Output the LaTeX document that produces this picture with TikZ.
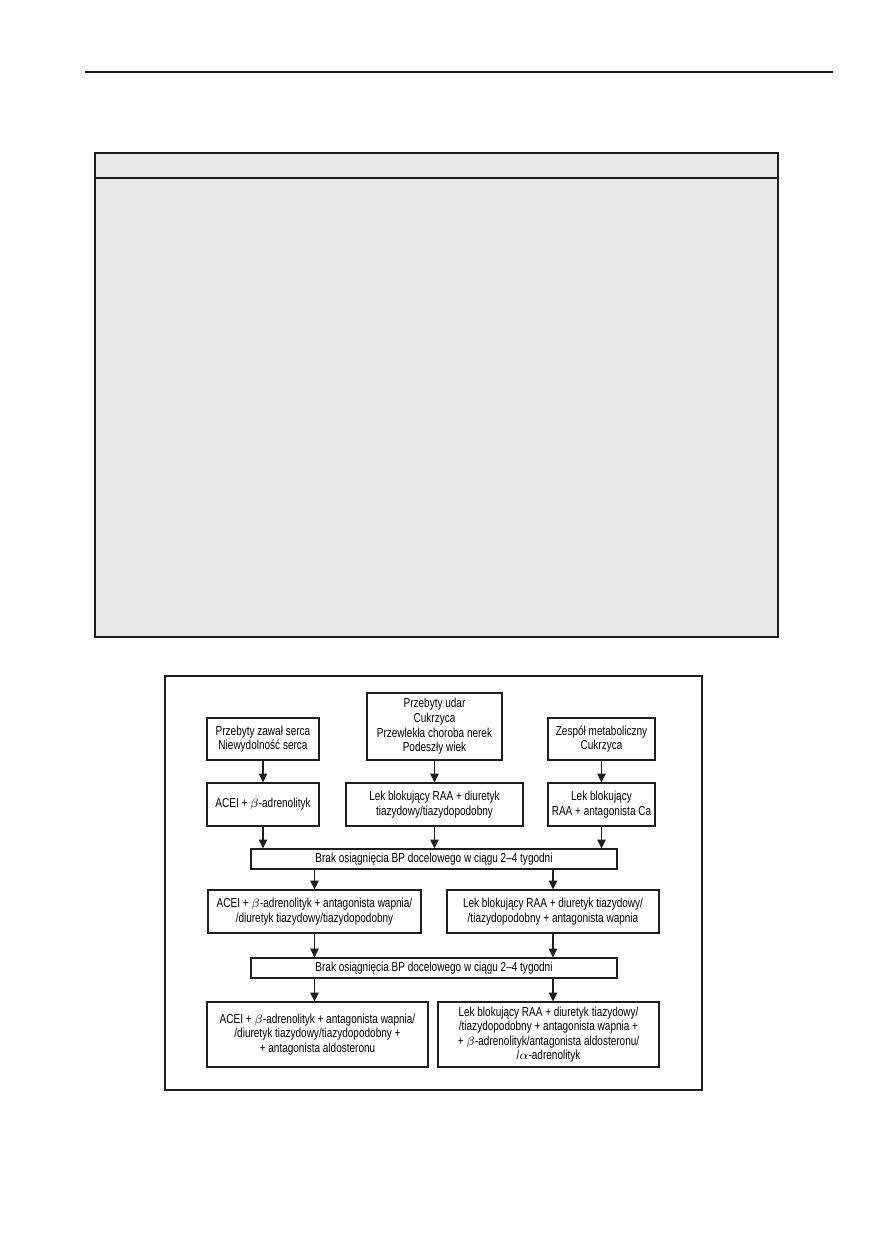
\documentclass[tikz,border=0pt]{standalone}
\usepackage{fontspec}
\usepackage{tikz}
\usetikzlibrary{arrows.meta}
\usepackage{xcolor}
\newfontfamily\chartfont[FakeStretch=0.77]{Liberation Sans}
\definecolor{panelgray}{HTML}{E8E8E8}
\definecolor{inkblack}{HTML}{1E1E1E}

\begin{document}
\begin{tikzpicture}[
    x=0.02cm, y=-0.02cm,
    drugbox/.style 2 args={draw=inkblack, line width=0.6pt, inner sep=0pt, align=center,
      minimum width=#1*0.02cm, minimum height=#2*0.02cm,
      font=\chartfont\fontsize{7.4pt}{8.3pt}\selectfont},
    arr/.style={-{Triangle[length=5pt,width=4.8pt]}, line width=0.6pt, draw=inkblack},
    rule/.style={line width=#1, draw=inkblack},
    rule/.default={0.8pt},
]
\useasboundingbox (0,0) rectangle (872,1233);

% page rule and empty table panel
\draw[rule=0.9pt] (85,72) -- (833,72);
\filldraw[rule, fill=panelgray] (95,153) rectangle (778,637);
\draw[rule] (95,178) -- (778,178);

% figure frame
\draw[rule=0.7pt] (165,676) rectangle (702,1090);

% ===== INDICATIONS =====
\node[drugbox={112}{42}] (zawal) at (263,739) {Przebyty zawał serca\\Niewydolność serca};
\node[drugbox={135}{67}] (udar) at (434.5,726.5) {Przebyty udar\\Cukrzyca\\Przewlekła choroba nerek\\Podeszły wiek};
\node[drugbox={107}{42}] (metab) at (601.5,739) {Zespół metaboliczny\\Cukrzyca};

% ===== FIRST STEP =====
\node[drugbox={112}{43}] (acei) at (263,804.5) {ACEI + $\beta$-adrenolityk};
\node[drugbox={177}{43}] (raadiur) at (434.5,804.5) {Lek blokujący RAA + diuretyk\\tiazydowy/tiazydopodobny};
\node[drugbox={107}{43}] (raaca) at (601.5,804.5) {Lek blokujący\\RAA + antagonista Ca};

\node[drugbox={366}{20}] (brakA) at (434,859) {Brak osiągnięcia BP docelowego w ciągu 2–4 tygodni};

% ===== SECOND STEP =====
\node[drugbox={213}{43}] (aceitri) at (314.5,911.5) {ACEI + $\beta$-adrenolityk + antagonista wapnia/\\/diuretyk tiazydowy/tiazydopodobny};
\node[drugbox={212}{43}] (raatri) at (553,911.5) {Lek blokujący RAA + diuretyk tiazydowy/\\/tiazydopodobny + antagonista wapnia};

\node[drugbox={366}{20}] (brakB) at (434,968) {Brak osiągnięcia BP docelowego w ciągu 2–4 tygodni};

% ===== THIRD STEP =====
\node[drugbox={221}{65}] (aceiquad) at (317.5,1034.5) {ACEI + $\beta$-adrenolityk + antagonista wapnia/\\/diuretyk tiazydowy/tiazydopodobny +\\+ antagonista aldosteronu};
\node[drugbox={221}{65}] (raaquad) at (548.5,1034.5) {Lek blokujący RAA + diuretyk tiazydowy/\\/tiazydopodobny + antagonista wapnia +\\+ $\beta$-adrenolityk/antagonista aldosteronu/\\/$\alpha$-adrenolityk};

% ===== ARROWS =====
\draw[arr] (zawal.south) -- (acei.north);
\draw[arr] (udar.south) -- (raadiur.north);
\draw[arr] (metab.south) -- (raaca.north);
\draw[arr] (acei.south) -- (acei.south |- brakA.north);
\draw[arr] (raadiur.south) -- (raadiur.south |- brakA.north);
\draw[arr] (raaca.south) -- (raaca.south |- brakA.north);
\draw[arr] (brakA.south -| aceitri) -- (aceitri.north);
\draw[arr] (brakA.south -| raatri) -- (raatri.north);
\draw[arr] (aceitri.south) -- (aceitri.south |- brakB.north);
\draw[arr] (raatri.south) -- (raatri.south |- brakB.north);
\draw[arr] (brakB.south -| aceitri) -- (aceitri |- aceiquad.north);
\draw[arr] (brakB.south -| raatri) -- (raatri |- raaquad.north);

\end{tikzpicture}
\end{document}
